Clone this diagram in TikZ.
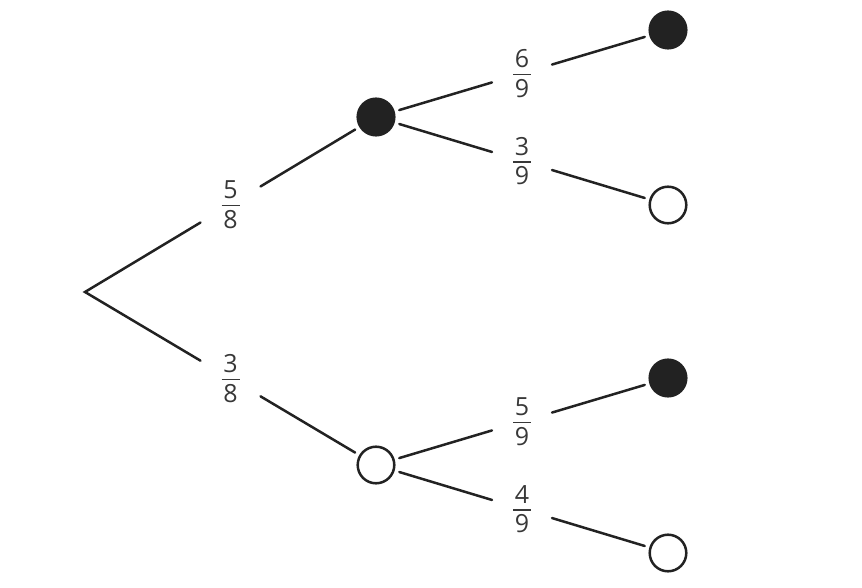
\documentclass[tikz,border=0pt]{standalone}
\usepackage{fontspec}
\setmainfont{Open Sans}
\usetikzlibrary{calc}

\definecolor{ink}{HTML}{222222}

\newcommand{\frc}[2]{\vbox{\hbox to 9pt{\hss#1\hss}\kern3pt
    \hrule width 9pt height 0.7pt\kern2pt\hbox to 9pt{\hss#2\hss}}}

\begin{document}
\begin{tikzpicture}[x=0.5pt,y=-0.5pt,
    branch/.style={draw=ink,line width=1.25pt,line cap=round},
    ball/.style={circle,draw=ink,line width=1.25pt,minimum size=18.3pt,
                 inner sep=0pt,outer sep=3pt},
    full/.style={ball,fill=ink},
    empty/.style={ball,fill=white},
    prob/.style={rectangle,minimum width=30pt,inner sep=0pt,outer sep=0pt,
                 text=ink!90,font=\fontsize{12.5}{14.5}\selectfont}]
    \useasboundingbox (0,0) rectangle (862,588);

    \coordinate                (root) at  (85,292);
    \node [full]               (b)    at (376,117) {};
    \node [empty]              (w)    at (376,465) {};
    \node [full]               (bb)   at (668,30)  {};
    \node [empty]              (bw)   at (668,205) {};
    \node [full]               (wb)   at (668,378) {};
    \node [empty]              (ww)   at (668,553) {};

    \node [prob] (pb)  at ($(root)!0.5!(b)$)  {\frc{5}{8}};
    \node [prob] (pw)  at ($(root)!0.5!(w)$)  {\frc{3}{8}};
    \node [prob] (pbb) at ($(b)!0.5!(bb)$)    {\frc{6}{9}};
    \node [prob] (pbw) at ($(b)!0.5!(bw)$)    {\frc{3}{9}};
    \node [prob] (pwb) at ($(w)!0.5!(wb)$)    {\frc{5}{9}};
    \node [prob] (pww) at ($(w)!0.5!(ww)$)    {\frc{4}{9}};

    \draw [branch] (pb) -- (root) -- (pw);
    \draw [branch] (pb) -- (b);
    \draw [branch] (pw) -- (w);
    \foreach \from/\via/\to in {b/pbb/bb, b/pbw/bw, w/pwb/wb, w/pww/ww} {
        \draw [branch] (\from) -- (\via);
        \draw [branch] (\via) -- (\to);
    }
\end{tikzpicture}
\end{document}
